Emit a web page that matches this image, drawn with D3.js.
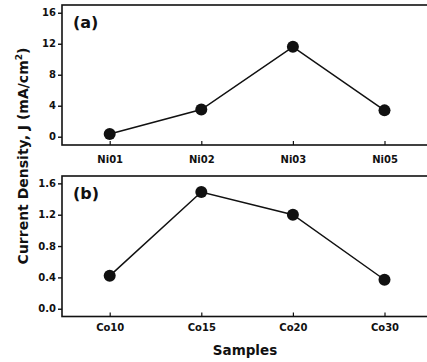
<!DOCTYPE html>
<html>
<head>
<meta charset="utf-8">
<script src="https://cdn.jsdelivr.net/npm/d3@7"></script>
<style>
  body { margin: 0; background: #fff; }
  svg { display: block; }
  text { font-family: "DejaVu Sans", Lato, sans-serif; font-weight: bold; fill: #111; }
</style>
</head>
<body>
<div id="chart-container"></div>
<script>
// data
let niSamples = ["Ni01", "Ni02", "Ni03", "Ni05"];
let niValues = [0.35, 3.5, 11.6, 3.4];
let niTicks = [0, 4, 8, 12, 16];

let coSamples = ["Co10", "Co15", "Co20", "Co30"];
let coValues = [0.42, 1.49, 1.2, 0.37];
let coTicks = [0.0, 0.4, 0.8, 1.2, 1.6];

let width = 427;
let height = 362;

var svg = d3
  .select("#chart-container")
  .append("svg")
  .attr("width", width)
  .attr("height", height);

// one panel = frame + line + dots
function drawPanel(cfg) {
  let xScale = d3
    .scalePoint()
    .domain(cfg.samples)
    .range([109.7, 384.5]);

  // frame runs a little past the picture on the right
  let left = 62;
  let right = 434;

  let yScale = d3
    .scaleLinear()
    .domain(cfg.domain)
    .range([cfg.bottom, cfg.top]);

  let g = svg.append("g");

  // frame
  g.append("rect")
    .attr("x", left)
    .attr("y", cfg.top)
    .attr("width", right - left)
    .attr("height", cfg.bottom - cfg.top)
    .attr("fill", "none")
    .attr("stroke", "#111")
    .attr("stroke-width", 1.6);

  // Y axis
  g.append("g")
    .attr("transform", "translate(" + left + ",0)")
    .call(
      d3.axisLeft(yScale)
        .tickValues(cfg.ticks)
        .tickSize(4)
        .tickPadding(2)
        .tickFormat(cfg.format)
    )
    .call((a) => a.select(".domain").remove())
    .call((a) => a.selectAll("line").attr("stroke", "#111").attr("stroke-width", 1.4))
    .call((a) => a.selectAll("text").style("font-size", "10px"));

  // X axis (ticks pointing inward)
  g.append("g")
    .attr("transform", "translate(0," + cfg.bottom + ")")
    .call(d3.axisBottom(xScale).tickSize(-4).tickPadding(cfg.pad))
    .call((a) => a.select(".domain").remove())
    .call((a) => a.selectAll("line").attr("stroke", "#111").attr("stroke-width", 1.2))
    .call((a) => a.selectAll("text").style("font-size", "10px"));

  // line
  let line = d3
    .line()
    .x((d, i) => xScale(cfg.samples[i]))
    .y((d) => yScale(d));

  g.append("path")
    .datum(cfg.values)
    .attr("d", line)
    .attr("fill", "none")
    .attr("stroke", "#111")
    .attr("stroke-width", 1.5);

  // dots
  g.selectAll(".dot")
    .data(cfg.values)
    .enter()
    .append("circle")
    .attr("class", "dot")
    .attr("cx", (d, i) => xScale(cfg.samples[i]))
    .attr("cy", (d) => yScale(d))
    .attr("r", 6)
    .attr("fill", "#111");

  // panel label
  g.append("text")
    .attr("x", 73)
    .attr("y", cfg.top + 23)
    .style("font-size", "16px")
    .text(cfg.label);
}

drawPanel({
  samples: niSamples,
  values: niValues,
  ticks: niTicks,
  domain: [-1.07, 17],
  top: 5,
  bottom: 145,
  pad: 11,
  format: d3.format("d"),
  label: "(a)",
});

drawPanel({
  samples: coSamples,
  values: coValues,
  ticks: coTicks,
  domain: [-0.099, 1.694],
  top: 176,
  bottom: 316.5,
  pad: 7,
  format: d3.format(".1f"),
  label: "(b)",
});

// axis titles
svg
  .append("text")
  .attr("transform", "translate(28,156) rotate(-90)")
  .style("text-anchor", "middle")
  .style("font-size", "14px")
  .html("Current Density, J (mA/cm<tspan dy='-6' style='font-size:9px'>2</tspan><tspan dy='6'>)</tspan>");

svg
  .append("text")
  .attr("x", 245)
  .attr("y", 355)
  .style("text-anchor", "middle")
  .style("font-size", "13.5px")
  .text("Samples");
</script>
</body>
</html>
